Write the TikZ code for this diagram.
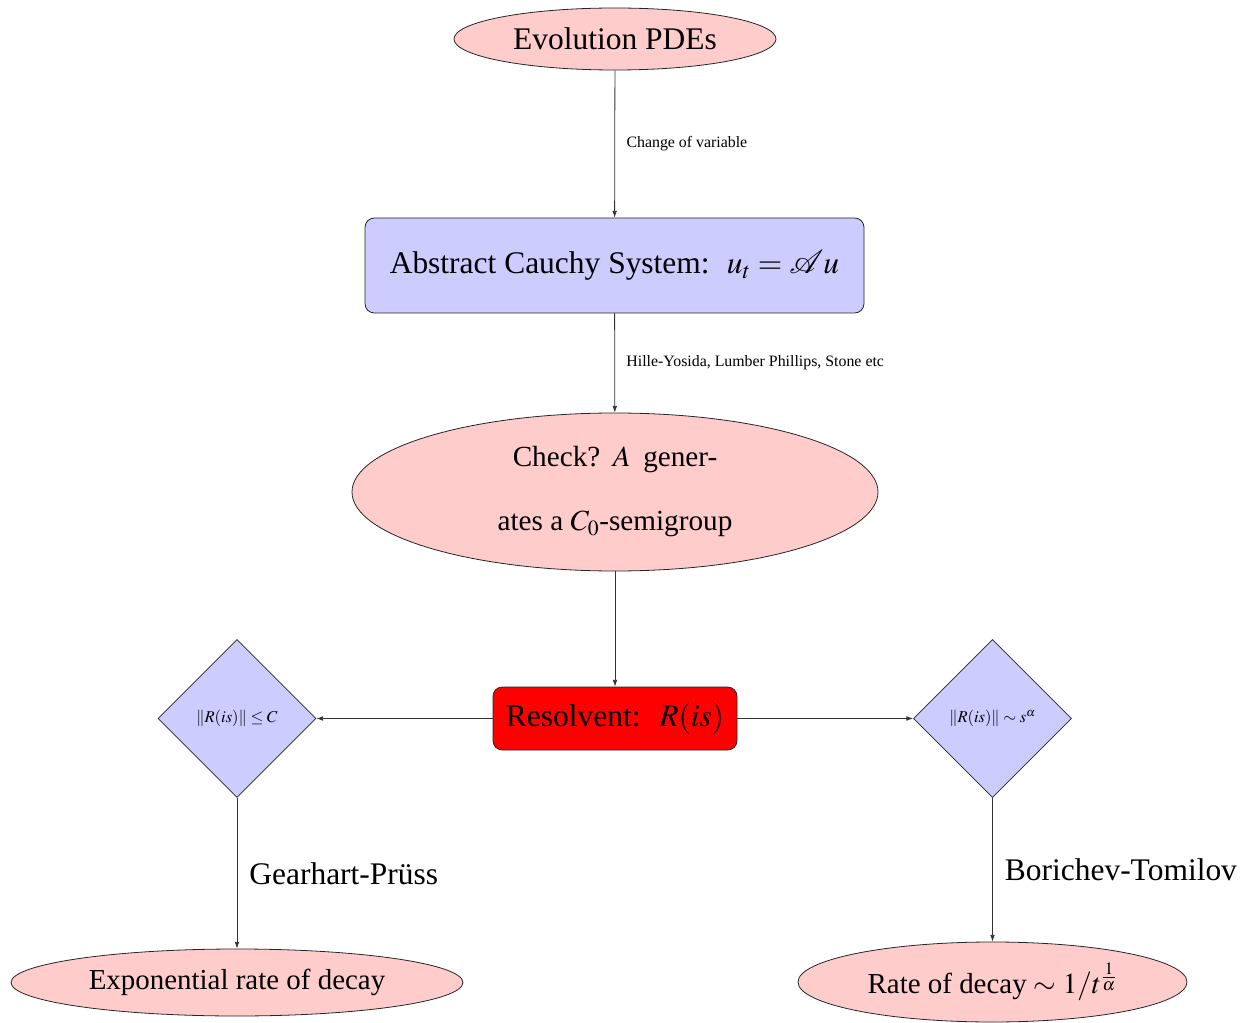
\documentclass[tikz,border=0pt]{standalone}
\usepackage{mathptmx}
\usepackage{mathrsfs}
\usepackage[no-math]{fontspec}
\setmainfont{Liberation Serif}
\usetikzlibrary{shapes.geometric,arrows.meta}
\begin{document}
\begin{tikzpicture}[x=0.75pt,y=-0.75pt,
  ell/.style={ellipse,draw=black!85,fill=red!20,inner sep=0pt,line width=0.6pt},
  rbox/.style={rectangle,rounded corners=7pt,draw=black!85,line width=0.6pt,inner sep=0pt},
  dia/.style={diamond,draw=black!85,fill=blue!20,inner sep=0pt,line width=0.6pt,minimum width=118.5pt,minimum height=118.5pt,font=\fontsize{12.4}{14}\selectfont},
  arr/.style={-{Latex[length=5pt,width=3.5pt]},draw=black!80,line width=0.6pt},
  big/.style={font=\fontsize{23.6}{28}\selectfont},
  mid/.style={font=\fontsize{21.7}{26}\selectfont},
  lab/.style={font=\fontsize{11.9}{14}\selectfont,inner sep=0pt,right=8.5pt},
  biglab/.style={font=\fontsize{23.6}{28}\selectfont,inner sep=0pt,right=9pt}]
\useasboundingbox (0,0) rectangle (1253,1023);

\node[ell,big,minimum width=241.5pt,minimum height=46.5pt] (pde) at (615,39) {Evolution PDEs};
\node[rbox,big,fill=blue!20,minimum width=374.25pt,minimum height=71.25pt] (acs) at (614.5,265.5) {Abstract Cauchy System:\hspace{0.55em}$u_t=\mathscr{A}u$};
\node[ell,font=\fontsize{21.9}{26}\selectfont,align=center,minimum width=394.5pt,minimum height=118.5pt] (chk) at (615,492) {Check?\hspace{0.43em}$A$\hspace{0.43em}gener-\\[22pt]ates a $C_0$-semigroup};
\node[rbox,big,fill=red,minimum width=183pt,minimum height=47.25pt] (res) at (615,718.5) {Resolvent:\hspace{0.6em}$R(is)$};
\node[dia] (ld) at (237,718.5) {$\|R(is)\|\leq C$};
\node[dia] (rd) at (992.5,718.5) {$\|R(is)\|\sim s^{\alpha}$};
\node[ell,mid,minimum width=339pt,minimum height=50.25pt] (exp) at (237,982.5) {Exponential rate of decay};
\node[ell,mid,minimum width=291.75pt,minimum height=60pt] (rate) at (992.5,982) {Rate of decay $\sim 1/t^{\frac{1}{\alpha}}$};

\draw[arr] (pde) -- node[lab] {Change of variable} (acs);
\draw[arr] (acs) -- node[lab] {Hille-Yosida, Lumber Phillips, Stone etc} (chk);
\draw[arr] (chk) -- (res);
\draw[arr] (res) -- (ld);
\draw[arr] (res) -- (rd);
\draw[arr] (ld) -- node[biglab] {Gearhart-Prüss} (exp);
\draw[arr] (rd) -- node[biglab] {Borichev-Tomilov} (rate);
\end{tikzpicture}
\end{document}
